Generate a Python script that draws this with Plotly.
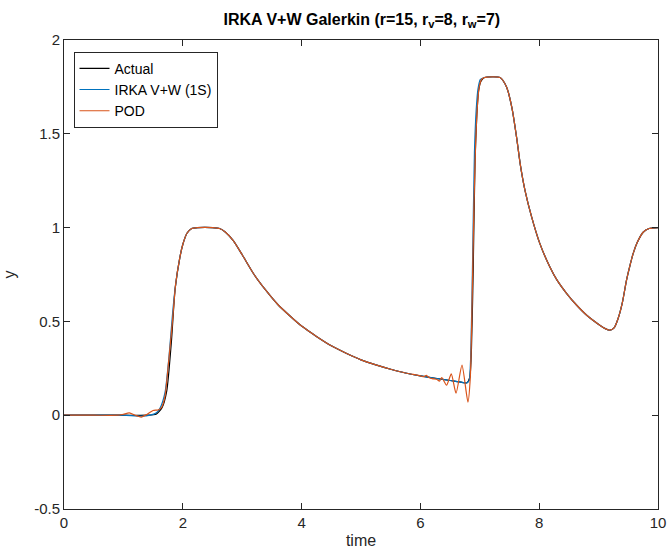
import plotly.graph_objects as go

# Actual response
t_actual = [0, 0.5, 1.0, 1.4, 1.55, 1.65, 1.73, 1.81, 1.87, 1.95, 2.0, 2.07, 2.15, 2.25, 2.5, 2.62, 2.72,
            2.85, 3.0, 3.2, 3.4, 3.6, 3.8, 4.0, 4.25, 4.5, 4.75, 5.0, 5.25, 5.5, 5.75, 6.0, 6.25, 6.5,
            6.7, 6.78, 6.83, 6.86, 6.89, 6.92, 6.95, 6.98, 7.02, 7.08, 7.34, 7.45, 7.54, 7.62, 7.68,
            7.76, 7.87, 8.01, 8.18, 8.3, 8.46, 8.62, 8.8, 9.02, 9.12, 9.19, 9.26, 9.33, 9.4, 9.47,
            9.53, 9.58, 9.65, 9.75, 9.85, 10.0]
y_actual = [0, 0, 0, 0, 0.005, 0.04, 0.13, 0.4, 0.67, 0.84, 0.91, 0.97, 0.995, 1.0, 1.0, 0.995, 0.975,
            0.93, 0.855, 0.75, 0.665, 0.59, 0.53, 0.475, 0.42, 0.37, 0.33, 0.295, 0.268, 0.245, 0.225,
            0.21, 0.197, 0.185, 0.175, 0.172, 0.2, 0.36, 0.8, 1.36, 1.6, 1.73, 1.78, 1.8, 1.8, 1.75,
            1.64, 1.48, 1.34, 1.2, 1.06, 0.916, 0.79, 0.72, 0.65, 0.59, 0.533, 0.48, 0.46, 0.453,
            0.465, 0.517, 0.6, 0.72, 0.8, 0.86, 0.92, 0.975, 0.995, 1.0]

# IRKA V+W (1S)
t_irka = [0, 0.5, 1.0, 1.3, 1.45, 1.55, 1.62, 1.7, 1.77, 1.83, 1.88, 1.95, 2.0, 2.07, 2.15, 2.25, 2.5,
          2.62, 2.72, 2.85, 3.0, 3.2, 3.4, 3.6, 3.8, 4.0, 4.25, 4.5, 4.75, 5.0, 5.25, 5.5, 5.75, 6.0,
          6.25, 6.5, 6.7, 6.78, 6.82, 6.85, 6.88, 6.91, 6.94, 6.97, 7.01, 7.08, 7.34, 7.45, 7.54, 7.62,
          7.68, 7.76, 7.87, 8.01, 8.18, 8.3, 8.46, 8.62, 8.8, 9.02, 9.12, 9.19, 9.26, 9.33, 9.4,
          9.47, 9.53, 9.58, 9.65, 9.75, 9.85, 10.0]
y_irka = [0, 0, 0, -0.005, 0.0, 0.012, 0.04, 0.12, 0.32, 0.55, 0.7, 0.84, 0.91, 0.97, 0.995, 1.0, 1.0,
          0.995, 0.975, 0.93, 0.855, 0.75, 0.665, 0.59, 0.53, 0.475, 0.42, 0.37, 0.33, 0.295, 0.268,
          0.245, 0.225, 0.21, 0.197, 0.185, 0.175, 0.172, 0.185, 0.35, 0.85, 1.4, 1.63, 1.74, 1.79,
          1.8, 1.8, 1.75, 1.64, 1.48, 1.34, 1.2, 1.06, 0.916, 0.79, 0.72, 0.65, 0.59, 0.533, 0.48,
          0.46, 0.453, 0.465, 0.517, 0.6, 0.72, 0.8, 0.86, 0.92, 0.975, 0.995, 1.0]

# POD
t_pod = [0, 0.5, 0.9, 1.0, 1.1, 1.2, 1.3, 1.4, 1.5, 1.58, 1.64, 1.7, 1.76, 1.82, 1.88, 1.95, 2.0, 2.07,
         2.15, 2.25, 2.5, 2.62, 2.72, 2.85, 3.0, 3.2, 3.4, 3.6, 3.8, 4.0, 4.25, 4.5, 4.75, 5.0, 5.25,
         5.5, 5.75, 6.0, 6.05, 6.1, 6.15, 6.2, 6.28, 6.32, 6.36, 6.44, 6.52, 6.6, 6.7, 6.8, 6.84,
         6.87, 6.9, 6.93, 6.96, 6.99, 7.03, 7.08, 7.34, 7.45, 7.54, 7.62, 7.68, 7.76, 7.87, 8.01,
         8.18, 8.3, 8.46, 8.62, 8.8, 9.02, 9.12, 9.19, 9.26, 9.33, 9.4, 9.47, 9.53, 9.58, 9.65, 9.75,
         9.85, 10.0]
y_pod = [0, 0, 0, 0.005, 0.012, 0.0, -0.01, 0.005, 0.025, 0.028, 0.04, 0.1, 0.28, 0.48, 0.7, 0.84, 0.91,
         0.97, 0.995, 1.0, 1.0, 0.995, 0.975, 0.93, 0.855, 0.75, 0.665, 0.59, 0.53, 0.475, 0.42, 0.37,
         0.33, 0.295, 0.268, 0.245, 0.225, 0.21, 0.205, 0.212, 0.2, 0.195, 0.19, 0.182, 0.2, 0.16,
         0.22, 0.117, 0.267, 0.07, 0.2, 0.6, 1.1, 1.45, 1.65, 1.75, 1.79, 1.8, 1.8, 1.75, 1.64, 1.48,
         1.34, 1.2, 1.06, 0.916, 0.79, 0.72, 0.65, 0.59, 0.533, 0.48, 0.46, 0.453, 0.465, 0.517,
         0.6, 0.72, 0.8, 0.86, 0.92, 0.975, 0.995, 1.0]

x_ticks = [0, 2, 4, 6, 8, 10]
y_ticks = [-0.5, 0, 0.5, 1, 1.5, 2]
y_tick_labels = ["-0.5", "0", "0.5", "1", "1.5", "2"]

fig = go.Figure()
fig.add_trace(go.Scatter(x=t_actual, y=y_actual, mode="lines", name="Actual",
                         line=dict(color="#000000", width=1.2, shape="spline", smoothing=0.6)))
fig.add_trace(go.Scatter(x=t_irka, y=y_irka, mode="lines", name="IRKA V+W (1S)",
                         line=dict(color="#0072BD", width=1.2, shape="spline", smoothing=0.6)))
fig.add_trace(go.Scatter(x=t_pod, y=y_pod, mode="lines", name="POD",
                         line=dict(color="#D95319", width=1.2, shape="spline", smoothing=0.6)))

axis_common = dict(showgrid=False, zeroline=False, showline=True, mirror="ticks",
                   linecolor="#262626", linewidth=1, ticks="inside", ticklen=6,
                   tickcolor="#262626", automargin=False,
                   tickfont=dict(size=15, color="#262626",
                                 family="Liberation Sans, Arial, sans-serif"))

fig.update_layout(
    width=670, height=552,
    margin=dict(l=64, r=12, t=40, b=43),
    paper_bgcolor="white", plot_bgcolor="white",
    font=dict(family="Liberation Sans, Arial, sans-serif", color="#262626", size=15),
    title=dict(text="<b>IRKA V+W Galerkin (r=15, r<sub>v</sub>=8, r<sub>w</sub>=7)</b>",
               x=0.54, xanchor="center", y=0.975, yanchor="top",
               font=dict(size=16, color="#000000")),
    xaxis=dict(range=[0, 10], tickvals=x_ticks, title=dict(text="time", standoff=4,
               font=dict(size=16)), **axis_common),
    yaxis=dict(range=[-0.5, 2], tickvals=y_ticks, ticktext=y_tick_labels,
               title=dict(text="y", standoff=14, font=dict(size=16)), **axis_common),
    legend=dict(x=0.016, y=0.975, xanchor="left", yanchor="top", bgcolor="white",
                bordercolor="#262626", borderwidth=1, font=dict(size=14, color="#000000"),
                tracegroupgap=0, itemwidth=30),
    showlegend=True,
)

fig.write_html("out.html")
